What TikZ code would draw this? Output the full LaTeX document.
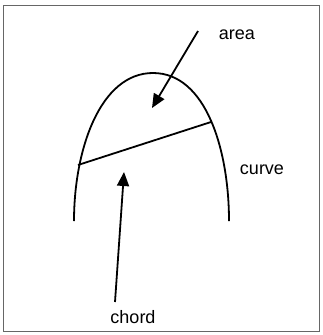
\documentclass[tikz,border=0pt]{standalone}
\usepackage{fontspec}
\setmainfont{Liberation Sans}
\usetikzlibrary{arrows.meta}
\begin{document}
\begin{tikzpicture}[x=1pt,y=-1pt,
  lbl/.style={font=\fontsize{18}{21}\selectfont, inner sep=0pt},
  stroke/.style={line width=1.8pt, line cap=butt},
  pointer/.style={line width=1.8pt, -{Triangle[length=14pt,width=12pt]}},
  frame/.style={draw=black!60, line width=0.8pt}]
\useasboundingbox (0,0) rectangle (322,335);
\draw[frame] (3,5) rectangle (319,331);
% the arch (curve)
\draw[stroke] (74,221) .. controls (74,150) and (100,73) .. (153,73)
  .. controls (206,73) and (229,150) .. (229,221);
% chord
\coordinate (c1) at (78,165);
\coordinate (c2) at (211,122);
\draw[stroke] (c1) -- (c2);
% labels
\node[lbl] (area) at (237,35) {area};
\node[lbl] (curve) at (262,170) {curve};
\node[lbl] (chord) at (133,317) {chord};
% pointers
\coordinate (a0) at (198,31);
\coordinate (a1) at (152,108);
\draw[pointer] (a0) -- (a1);
\coordinate (b0) at (115,302);
\coordinate (b1) at (124,172);
\draw[pointer] (b0) -- (b1);
\end{tikzpicture}
\end{document}
